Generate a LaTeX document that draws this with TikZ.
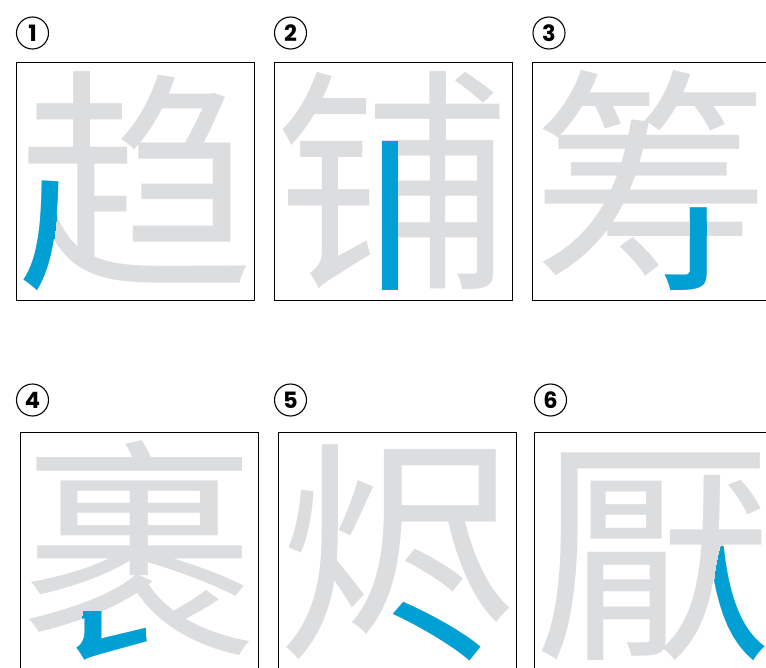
\documentclass[tikz,border=0pt]{standalone}
\usepackage{fontspec}
\newfontfamily\cjkfont{Noto Sans CJK SC}
\newfontfamily\numfont{Poppins}
\definecolor{strokegray}{RGB}{220,221,223}
\definecolor{strokeblue}{RGB}{0,159,212}
\tikzset{
  panel/.style={draw=black, line width=0.8bp, minimum size=238bp, inner sep=0pt, anchor=north west},
  glyph/.style={inner sep=0pt, anchor=base west, text=strokegray, font=\cjkfont\fontsize{238bp}{238bp}\selectfont},
  hilite/.style={text=strokeblue},
  badge/.style={circle, draw=black, line width=1.1bp, minimum size=32bp, inner sep=0pt, font=\numfont\bfseries\fontsize{22.5bp}{22.5bp}\selectfont}
}
\begin{document}
\begin{tikzpicture}[x=1bp, y=-1bp]
    \useasboundingbox (0,0) rectangle (766,668);
    \clip (0,0) rectangle (766,668);
    % boxes
    \node[panel] (p1) at (16,62) {};
    \node[panel] (p2) at (274,62) {};
    \node[panel] (p3) at (532,62) {};
    \node[panel] (p4) at (20,432) {};
    \node[panel] (p5) at (278,432) {};
    \node[panel] (p6) at (534,432) {};
    % numbers
    \node[badge] (n1) at (32.5,33) {1};
    \node[badge] (n2) at (290.5,33) {2};
    \node[badge] (n3) at (549,33) {3};
    \node[badge] (n4) at (32.5,400) {4};
    \node[badge] (n5) at (290.5,400) {5};
    \node[badge] (n6) at (550.5,400) {6};
    % characters
    \node[glyph] (g1) at ([yshift=-209.4bp]p1.north west) {趋};
    \node[glyph] (g2) at ([yshift=-209.4bp]p2.north west) {铺};
    \node[glyph] (g3) at ([yshift=-209.4bp]p3.north west) {筹};
    \node[glyph] (g4) at ([yshift=-209.4bp]p4.north west) {裹};
    \node[glyph] (g5) at ([yshift=-209.4bp]p5.north west) {烬};
    \node[glyph] (g6) at ([yshift=-209.4bp]p6.north west) {厭};
    % highlighted strokes
    \begin{scope}
        \clip (40,176) -- (62,176) -- (59.8,195) -- (57.3,210) -- (55.9,222) -- (54.4,236) -- (52.9,244) -- (52.6,250) -- (54,262) -- (50,300) -- (12,300) -- (12,176) -- cycle;
        \node[glyph, hilite] at (g1.base west) {趋};
    \end{scope}
    \fill[strokeblue] (382,141) rectangle (398,290);
    \begin{scope}
        \clip (689.7,205.5) -- (706.6,205.5) -- (706.6,296) -- (660,296) -- (660,272) -- (689.7,272) -- cycle;
        \node[glyph, hilite] at (g3.base west) {筹};
    \end{scope}
    \begin{scope}
        \clip (83,611) -- (106,611) -- (106,622) -- (152,622) -- (152,668) -- (50,668) -- (50,640) -- (80,630) -- cycle;
        \node[glyph, hilite] at (g4.base west) {裹};
    \end{scope}
    \begin{scope}
        \clip (398.8,594.6) -- (485.2,644.6) -- (473.2,665.4) -- (386.8,615.4) -- cycle;
        \node[glyph, hilite] at (g5.base west) {烬};
    \end{scope}
    \begin{scope}
        \clip (720.5,545.5) -- (766,545.5) -- (766,668) -- (740,668) -- (715.5,602) -- (713.5,585) -- (715,572) -- (717.5,558) -- cycle;
        \node[glyph, hilite] at (g6.base west) {厭};
    \end{scope}
\end{tikzpicture}
\end{document}
